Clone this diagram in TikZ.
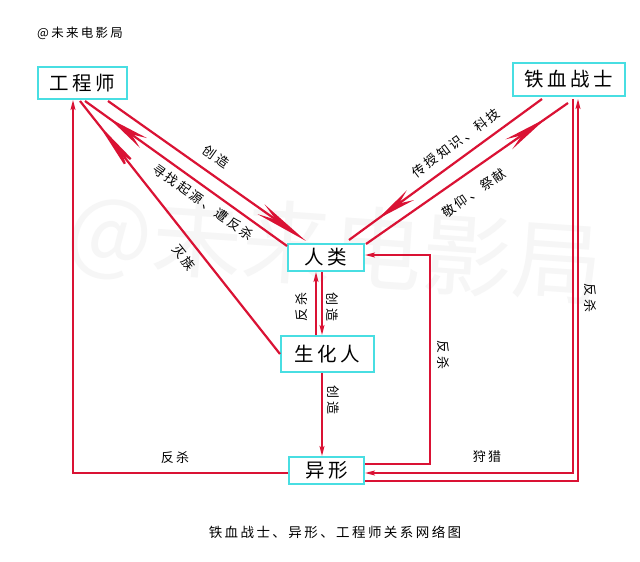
\documentclass[tikz,border=0pt]{standalone}
\usepackage{fontspec}
\setmainfont{Noto Sans CJK SC}
\newfontfamily\cjk[LetterSpace=18]{Noto Sans CJK SC}
\usetikzlibrary{arrows.meta,decorations.markings,calc}
\definecolor{lred}{RGB}{218,18,52}
\definecolor{bcyan}{RGB}{72,222,226}
\begin{document}
\begin{tikzpicture}[x=1pt,y=-1pt,
  ent/.style={draw=bcyan, line width=2pt, fill=white, inner sep=0pt,
    font=\cjk\fontsize{19.5}{20}\selectfont},
  lab/.style={font=\cjk\fontsize{13}{13}\selectfont, inner sep=0pt},
  diag/.style={draw=lred, line width=2.2pt},
  orth/.style={draw=lred, line width=1.5pt},
  smalltip/.style={-{Stealth[length=10pt,width=5pt,inset=2pt]}},
  amid/.style 2 args={postaction={decorate}, decoration={markings,
    mark=at position #1 with {\arrow{Stealth[length=#2,width=12pt,inset=0.35*#2]}}}}
]
\useasboundingbox (0,0) rectangle (640,562);
\fill[white] (0,0) rectangle (640,562);

% watermark
\node[text=black!3.5, rotate=-4, font=\fontsize{90}{90}\selectfont, inner sep=0pt] (wm) at (335,250) {@未来电影局};

% title and caption
\node[font=\cjk\fontsize{12.5}{13}\selectfont, inner sep=0pt, anchor=west] (title) at (37,33) {@未来电影局};
\node[font=\cjk\fontsize{13.5}{14}\selectfont, inner sep=0pt] (cap) at (335,532) {铁血战士、异形、工程师关系网络图};

% entities
\node[ent, minimum width=89pt, minimum height=32pt] (eng) at (82.5,83) {工程师};
\node[ent, minimum width=112pt, minimum height=33pt] (pred) at (569,79.5) {铁血战士};
\node[ent, minimum width=76pt, minimum height=27pt] (human) at (326,257.5) {人类};
\node[ent, minimum width=93pt, minimum height=36pt] (bio) at (327.5,354) {生化人};
\node[ent, minimum width=75pt, minimum height=27pt] (alien) at (326.5,470.5) {异形};

% diagonal connectors
\draw[diag, -{Stealth[length=55pt,width=12pt,inset=18pt]}] ($(eng.south)+(25.5,1)$) -- ($(human.north west)+(19,-2)$);
\draw[diag, amid={0.88}{42pt}] ($(human.north west)+(0,3)$) -- ($(eng.south)+(2.5,1)$);
\draw[diag, amid={0.91}{60pt}] (bio.west) -- ($(eng.south)+(-2.5,1)$);
\draw[diag, amid={0.85}{40pt}] ($(pred.south)+(-27,2)$) -- ($(human.north east)+(-16,-3)$);
\draw[diag, amid={0.89}{45pt}] ($(human.north east)+(1,1)$) -- ($(pred.south)+(-1,6)$);

% human <-> bio
\coordinate (hl) at ($(human.south)+(-10,0)$);
\coordinate (hr) at ($(human.south)+(-4,0)$);
\draw[orth, smalltip] (hl |- bio.north) -- (hl);
\draw[orth, smalltip] (hr) -- (hr |- bio.north);

% bio -> alien
\coordinate (ba) at ($(bio.south)+(-5.5,0)$);
\draw[orth, smalltip] (ba) -- (ba |- alien.north);

% alien -> eng
\draw[orth, smalltip] ($(alien.west)+(0,2.5)$) -| ($(eng.south)+(-9.5,0)$);

% alien -> human
\coordinate (r1) at (430,255);
\draw[orth, smalltip] ($(alien.east)+(0,-6.5)$) -| (r1) -- ($(human.east)+(0,-2.5)$);

% pred -> alien (hunting)
\draw[orth, smalltip] ($(pred.south)+(4,2)$) |- ($(alien.east)+(0,2.5)$);

% alien -> pred
\draw[orth, smalltip] ($(alien.east)+(0,10.5)$) -| ($(pred.south)+(9,2)$);

% labels
\node[lab, rotate=-35.3] (l1) at (216,157) {创造};
\node[lab, rotate=-35.5] (l2) at (203,202) {寻找起源、遭反杀};
\node[lab, rotate=-51.6] (l3) at (184,258) {灭族};
\node[lab, rotate=36.2] (l4) at (456,143) {传授知识、科技};
\node[lab, rotate=35.2] (l5) at (474,193) {敬仰、祭献};
\node[lab, rotate=90] (l6) at (302,307) {反杀};
\node[lab, rotate=-90] (l7) at (332,307) {创造};
\node[lab, rotate=-90] (l8) at (333,400) {创造};
\node[lab] (l9) at (175,458) {反杀};
\node[lab, rotate=-90] (l10) at (443,355) {反杀};
\node[lab] (l11) at (487,457) {狩猎};
\node[lab, rotate=-90] (l12) at (590,298) {反杀};
\end{tikzpicture}
\end{document}
